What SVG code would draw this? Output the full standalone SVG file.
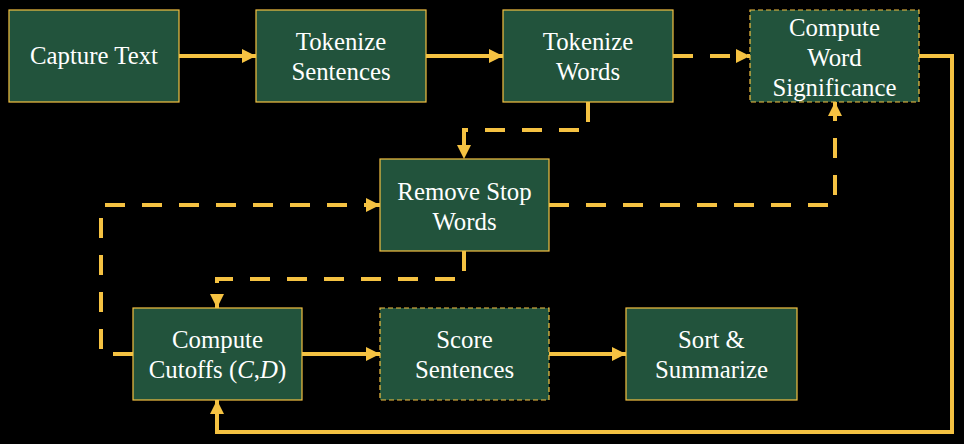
<svg xmlns="http://www.w3.org/2000/svg" width="964" height="444" viewBox="0 0 964 444">
<style>
.box{fill:#22533c;stroke:#f5c242;stroke-width:1.2}
.dbox{fill:#22533c;stroke:#f5c242;stroke-width:1.2;stroke-dasharray:5 3}
.lbl{font-family:'Liberation Serif','Tinos','Times New Roman','DejaVu Serif',serif;font-size:24.8px;fill:#ffffff;text-anchor:middle}
.c{fill:none;stroke:#f5c242;stroke-width:4}
.d{stroke-dasharray:20 17}
</style>
<defs>
<marker id="ah" viewBox="0 0 14 14" refX="14" refY="7" markerWidth="14" markerHeight="14" markerUnits="userSpaceOnUse" orient="auto">
<path d="M0,0 L14,7 L0,14 Z" fill="#f5c242"/>
</marker>
</defs>
<rect width="964" height="444" fill="#000"/>
<g id="connectors">
<path class="c" d="M179,56 H256" marker-end="url(#ah)"/>
<path class="c" d="M426,56 H503" marker-end="url(#ah)"/>
<path class="c d" d="M673,56 H750" marker-end="url(#ah)"/>
<path class="c d" d="M588,102 V130 H464 V159" marker-end="url(#ah)"/>
<path class="c d" d="M549,205 H835 V102" marker-end="url(#ah)"/>
<path class="c d" d="M464,251 V279 H217 V308" marker-end="url(#ah)"/>
<path class="c d" d="M133,354 H101 V205 H380" marker-end="url(#ah)"/>
<path class="c" d="M302,354 H380" marker-end="url(#ah)"/>
<path class="c" d="M549,354 H626" marker-end="url(#ah)"/>
<path class="c" d="M919,56 H952 V432 H217 V400" marker-end="url(#ah)"/>
</g>
<g id="capture">
<rect class="box" x="9" y="10" width="170" height="92"/>
<text class="lbl" x="94" y="64">Capture Text</text>
</g>
<g id="tokSent">
<rect class="box" x="256" y="10" width="170" height="92"/>
<text class="lbl" x="341" y="50">Tokenize</text>
<text class="lbl" x="341" y="80">Sentences</text>
</g>
<g id="tokWords">
<rect class="box" x="503" y="10" width="170" height="92"/>
<text class="lbl" x="588" y="50">Tokenize</text>
<text class="lbl" x="588" y="80">Words</text>
</g>
<g id="cws">
<rect class="dbox" x="750" y="10" width="169" height="92"/>
<text class="lbl" x="834.5" y="36">Compute</text>
<text class="lbl" x="834.5" y="66">Word</text>
<text class="lbl" x="834.5" y="96">Significance</text>
</g>
<g id="removeStop">
<rect class="box" x="380" y="159" width="169" height="92"/>
<text class="lbl" x="464.5" y="200">Remove Stop</text>
<text class="lbl" x="464.5" y="230">Words</text>
</g>
<g id="cutoffs">
<rect class="box" x="133" y="308" width="169" height="92"/>
<text class="lbl" x="217.5" y="348">Compute</text>
<text class="lbl" x="217.5" y="378">Cutoffs (<tspan font-style="italic">C</tspan>,<tspan font-style="italic">D</tspan>)</text>
</g>
<g id="score">
<rect class="dbox" x="380" y="308" width="169" height="92"/>
<text class="lbl" x="464.5" y="348">Score</text>
<text class="lbl" x="464.5" y="378">Sentences</text>
</g>
<g id="sort">
<rect class="box" x="626" y="308" width="171" height="92"/>
<text class="lbl" x="711.5" y="348">Sort &amp;</text>
<text class="lbl" x="711.5" y="378">Summarize</text>
</g>
</svg>
